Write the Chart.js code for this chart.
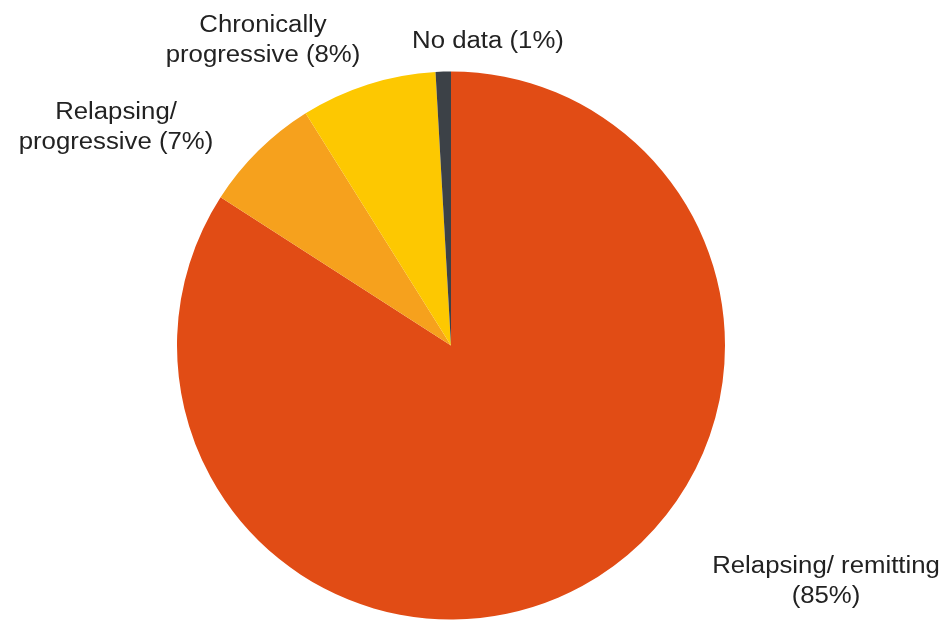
<!DOCTYPE html>
<html>
<head>
<meta charset="utf-8">
<script src="https://cdn.jsdelivr.net/npm/chart.js@4/dist/chart.umd.min.js"></script>
<style>
  html, body { margin: 0; padding: 0; background: #fff; }
  canvas { display: block; }
</style>
</head>
<body>
<canvas id="myChart" width="946" height="622"></canvas>
<script>
// data (clockwise from 12 o'clock)
const categories = ['Relapsing/ remitting', 'Relapsing/ progressive', 'Chronically progressive', 'No data']
const values = [84.1, 7.0, 8.0, 0.9]
const pctLabels = ['85%', '7%', '8%', '1%']

// how each label wraps, and where it sits
const labelLines = [
    ['Relapsing/ remitting', '(85%)'],
    ['Relapsing/', 'progressive (7%)'],
    ['Chronically', 'progressive (8%)'],
    ['No data (1%)']
]
const labelAnchors = [[826, 573], [116, 119], [263, 32], [488, 48]]
const colors = ['#e14c15', '#f6a11d', '#fdc801', '#3c4147']

const outsideLabels = {
    id: 'outsideLabels',
    afterDraw(chart) {
        const ctx = chart.ctx
        ctx.save()
        ctx.fillStyle = '#222'
        ctx.font = '23px "Liberation Sans", Arial, sans-serif'
        ctx.textAlign = 'center'
        ctx.textBaseline = 'alphabetic'
        labelLines.forEach((lines, i) => {
            const [x, y] = labelAnchors[i]
            lines.forEach((line, j) => {
                ctx.save()
                ctx.translate(x, y + j * 29.5)
                ctx.scale(1.12, 1)
                ctx.fillText(line, 0, 0)
                ctx.restore()
            })
        })
        ctx.restore()
    }
}

const ctx = document.getElementById('myChart').getContext('2d')
const chart = new Chart(ctx, {
    type: 'pie',
    data: {
        labels: categories.map((c, i) => c + ' (' + pctLabels[i] + ')'),
        datasets: [{
            data: values,
            backgroundColor: colors,
            borderWidth: 0
        }]
    },
    options: {
        responsive: false,
        animation: false,
        layout: {
            padding: { left: 177, right: 221, top: 71, bottom: 2 }
        },
        plugins: {
            legend: { display: false },
            tooltip: { enabled: false }
        }
    },
    plugins: [outsideLabels]
})
</script>
</body>
</html>
